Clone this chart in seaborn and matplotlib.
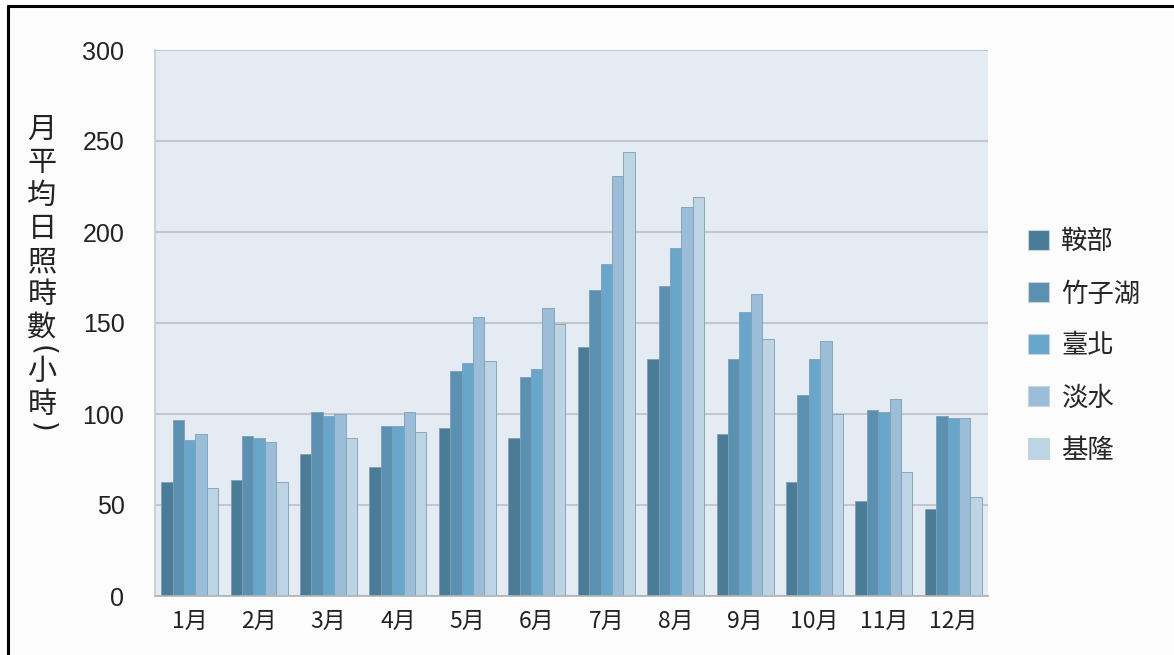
import numpy as np
import pandas as pd
import matplotlib
matplotlib.use('Agg')
import matplotlib.pyplot as plt
from matplotlib.lines import Line2D
from matplotlib.patches import Patch
import seaborn as sns

# monthly mean sunshine hours per station
months = ['1月', '2月', '3月', '4月', '5月', '6月', '7月', '8月', '9月', '10月', '11月', '12月']
stations = ['鞍部', '竹子湖', '臺北', '淡水', '基隆']
anbu = [62.5, 63.6, 77.9, 71.1, 92.3, 87.0, 136.8, 130.2, 89.0, 62.5, 52.4, 47.8]
zhuzihu = [96.9, 88.1, 101.3, 93.6, 123.8, 120.2, 168.0, 170.3, 130.2, 110.3, 102.4, 98.9]
taipei = [85.7, 86.8, 99.1, 93.6, 128.0, 124.7, 182.4, 191.4, 155.9, 130.2, 101.3, 98.0]
tamsui = [89.2, 84.8, 100.2, 101.3, 153.5, 158.0, 230.6, 213.7, 166.1, 140.3, 108.1, 98.0]
keelung = [59.2, 62.5, 86.8, 90.1, 129.1, 149.3, 243.8, 219.2, 141.2, 100.0, 68.1, 54.6]
yticks = [0, 50, 100, 150, 200, 250, 300]
ylabel_chars = ['月', '平', '均', '日', '照', '時', '數', '(', '小', '時', ')']

colors = ['#4a7c98', '#5c90b0', '#69a6cb', '#9bbdd7', '#bcd4e3']

df = pd.DataFrame({
    'month': months * 5,
    'station': np.repeat(stations, 12),
    'hours': anbu + zhuzihu + taipei + tamsui + keelung,
})

sns.set_theme(style='white')
plt.rcParams['font.family'] = ['Noto Sans CJK TC', 'DejaVu Sans']

fig = plt.figure(figsize=(11.74, 6.55), dpi=100, facecolor='#fcfcfc')
ax = fig.add_axes([155 / 1174, 59 / 655, 833 / 1174, 546 / 655])
ax.set_facecolor('#e4ebf2')

sns.barplot(data=df, x='month', y='hours', hue='station', order=months,
            hue_order=stations, palette=colors, saturation=1, width=0.82, gap=0,
            edgecolor='#7f9fb4', linewidth=0.6, legend=False, ax=ax)

ax.set_ylim(0, 300)
ax.set_xlim(-0.5, 11.5)
ax.set_yticks(yticks)
ax.set_yticklabels([str(v) for v in yticks], family='Liberation Sans', fontsize=18)
ax.set_xticks(range(12))
ax.set_xticklabels(months, fontsize=16.5)
ax.set_xticks(np.arange(-0.5, 12, 1), minor=True)
ax.tick_params(axis='x', which='major', length=0, pad=10, colors='#222222')
ax.tick_params(axis='x', which='minor', direction='in', length=5, width=1, color='#b0b4b8')
ax.tick_params(axis='y', length=0, pad=22, colors='#222222')
ax.set_xlabel('')
ax.set_ylabel('')
ax.yaxis.grid(True, color='#c3c7cb', linewidth=1.5)
ax.set_axisbelow(True)
for s in ['top', 'right']:
    ax.spines[s].set_visible(False)
ax.spines['left'].set_color('#c8ccd0')
ax.spines['bottom'].set_color('#b0b4b8')

# vertical axis title, one character per line, brackets turned sideways
y = 1 - 130 / 655
for ch in ylabel_chars:
    if ch in '()':
        y += 11 / 655
        fig.text(42 / 1174, y, ch, fontsize=20, ha='center', va='center', rotation=-90,
                 color='#222222', family='DejaVu Sans')
        y -= 22 / 655
    else:
        fig.text(42 / 1174, y, ch, fontsize=21, ha='center', va='center', color='#222222')
        y -= 33 / 655

handles = [Patch(facecolor=c, edgecolor='#c8d4dc', linewidth=0.8) for c in colors]
fig.legend(handles, stations, loc='center left', bbox_to_anchor=(1015 / 1174, 1 - 346 / 655),
           frameon=False, fontsize=19, handlelength=0.8, handleheight=0.8,
           handletextpad=0.45, labelspacing=0.95, borderpad=0)

# frame lines of the original figure
fig.add_artist(Line2D([8 / 1174, 1], [1 - 6 / 655, 1 - 6 / 655], color='black', linewidth=2.2,
                      transform=fig.transFigure))
fig.add_artist(Line2D([8 / 1174, 8 / 1174], [0, 1 - 6 / 655], color='black', linewidth=2.2,
                      transform=fig.transFigure))

fig.savefig('out.png', dpi=100, facecolor=fig.get_facecolor())
